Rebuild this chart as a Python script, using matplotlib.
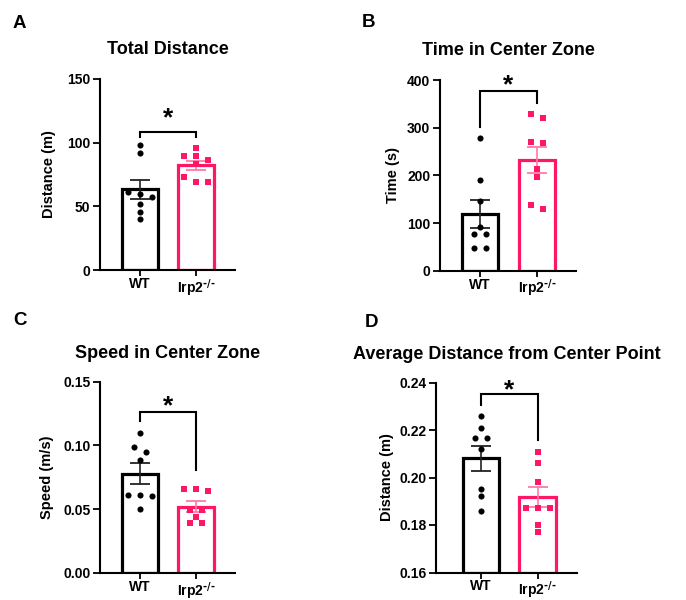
import numpy as np
import matplotlib
matplotlib.use("Agg")
import matplotlib.pyplot as plt

plt.rcParams['font.family'] = ['Liberation Sans', 'DejaVu Sans']
plt.rcParams['font.weight'] = 'bold'
plt.rcParams['mathtext.default'] = 'regular'

# ---------------- data ----------------
groups = ["WT", r"Irp2$^{\text{-/-}}$"]

dist_wt = [98.2, 91.7, 61.5, 59.5, 57.6, 51.8, 45.8, 39.8]
dist_ko = [95.6, 89.8, 89.8, 86.4, 83.0, 73.3, 69.4, 69.4]

time_wt = [277.7, 190, 146, 91, 77, 77, 47, 47]
time_ko = [329, 320, 271, 267, 213, 197, 137, 129]

speed_wt = [0.1097, 0.0988, 0.0949, 0.0889, 0.0608, 0.0600, 0.0608, 0.0499]
speed_ko = [0.0655, 0.0642, 0.0655, 0.0494, 0.0494, 0.0442, 0.0390, 0.0390]

cdist_wt = [0.2258, 0.2208, 0.2168, 0.2168, 0.2119, 0.1953, 0.1921, 0.1858]
cdist_ko = [0.2108, 0.2060, 0.1979, 0.1872, 0.1872, 0.1872, 0.1800, 0.1771]

titles = ["Total Distance", "Time in Center Zone",
          "Speed in Center Zone", "Average Distance from Center Point"]
ylabels = ["Distance (m)", "Time (s)", "Speed (m/s)", "Distance (m)"]
letters = ["A", "B", "C", "D"]
yticks = [[0, 50, 100, 150], [0, 100, 200, 300, 400],
          [0.00, 0.05, 0.10, 0.15], [0.16, 0.18, 0.20, 0.22, 0.24]]
tickfmt = ["{:.0f}", "{:.0f}", "{:.2f}", "{:.2f}"]
series = [(dist_wt, dist_ko), (time_wt, time_ko),
          (speed_wt, speed_ko), (cdist_wt, cdist_ko)]

# significance bracket: (left end, top, right end, asterisk centre)
brackets = [(104.7, 108, 104.7, 125.7), (302, 377, 352, 406),
            (0.119, 0.1266, 0.081, 0.137), (0.2306, 0.2351, 0.2157, 0.240)]

# ---------------- layout (pixels) ----------------
W, H = 686, 600
BLACK = "#000000"
PINK = "#FF1767"
PINK_ERR = "#FF7AA6"

# left, right, top, bottom px ; xlim
boxes = [(100, 235, 79, 270, (-0.714, 1.696)),
         (440, 576, 80, 270.7, (-0.71, 1.69)),
         (100, 235, 381.7, 573, (-0.714, 1.696)),
         (436, 577, 382.5, 572.5, (-0.80, 1.70))]
letter_pos = [(13, 28), (362, 27), (13, 325), (365, 327)]
title_base = [54, 55, 358, 359]
ylabel_x = [49, 393, 47, 387.5]


def swarm(vals, px_per_unit, step_px, thr_px=6.5):
    """Group close values into rows and centre each row (dot-plot layout)."""
    order = np.argsort(vals)[::-1]
    offs = np.zeros(len(vals))
    rows, cur = [], [order[0]]
    for i in order[1:]:
        if abs(vals[cur[0]] - vals[i]) * px_per_unit < thr_px:
            cur.append(i)
        else:
            rows.append(cur)
            cur = [i]
    rows.append(cur)
    for r in rows:
        n = len(r)
        for k, i in enumerate(r):
            offs[i] = (k - (n - 1) / 2) * step_px
    return offs


fig = plt.figure(figsize=(W / 100, H / 100), dpi=100)
fig.patch.set_facecolor("white")

for p in range(4):
    l, r, t, b, xl = boxes[p]
    ax = fig.add_axes([l / W, 1 - b / H, (r - l) / W, (b - t) / H])
    ylim = (yticks[p][0], yticks[p][-1])
    ax.set_xlim(*xl)
    ax.set_ylim(*ylim)
    px_per_x = (r - l) / (xl[1] - xl[0])
    px_per_y = (b - t) / (ylim[1] - ylim[0])

    for gi, (vals, col, ecol, mk, ms) in enumerate(
            [(series[p][0], BLACK, "#222222", "o", 4.4),
             (series[p][1], PINK, PINK_ERR, "s", 4.2)]):
        vals = np.asarray(vals, dtype=float)
        m = vals.mean()
        sem = vals.std(ddof=1) / np.sqrt(len(vals))
        ax.bar(gi, m - ylim[0], bottom=ylim[0], width=0.64, facecolor="white",
               edgecolor=col, linewidth=2.3, zorder=2)
        ax.errorbar(gi, m, yerr=sem, color=ecol, elinewidth=1.2, capsize=7,
                    capthick=1.3, zorder=3)
        offs = swarm(vals, px_per_y, 12.0) / px_per_x
        ax.plot(gi + offs, vals, linestyle="none", marker=mk, ms=ms,
                color=col, markeredgewidth=0, zorder=4, clip_on=False)

    yl, yt, yr, ya = brackets[p]
    ax.plot([0, 0, 1, 1], [yl, yt, yt, yr], color="black", lw=1.5,
            clip_on=False, zorder=5, solid_joinstyle="miter")
    fs = 19
    ax.annotate("*", xy=(0.5, ya), xytext=(0, -0.58 * fs),
                textcoords="offset points", ha="center", va="baseline",
                fontsize=fs, fontweight="bold", annotation_clip=False)

    for s in ["top", "right"]:
        ax.spines[s].set_visible(False)
    for s in ["left", "bottom"]:
        ax.spines[s].set_linewidth(1.5)
    ax.set_yticks(yticks[p])
    ax.set_yticklabels([tickfmt[p].format(v) for v in yticks[p]])
    ax.set_xticks([0, 1])
    ax.set_xticklabels(groups)
    ax.tick_params(axis="both", length=5, width=1.3, labelsize=10, pad=2)
    ax.tick_params(axis="x", length=4.5, pad=0.5)
    for lab in ax.get_xticklabels() + ax.get_yticklabels():
        lab.set_fontweight("bold")

    fig.text(((l + r) / 2) / W, 1 - title_base[p] / H, titles[p],
             ha="center", va="baseline", fontsize=13, fontweight="bold")
    fig.text(letter_pos[p][0] / W, 1 - letter_pos[p][1] / H, letters[p],
             ha="left", va="baseline", fontsize=13.5, fontweight="bold")
    fig.text(ylabel_x[p] / W, 1 - ((t + b) / 2) / H, ylabels[p],
             rotation=90, ha="center", va="center", fontsize=10.5,
             fontweight="bold")

fig.savefig("out.png", dpi=100, facecolor="white")
